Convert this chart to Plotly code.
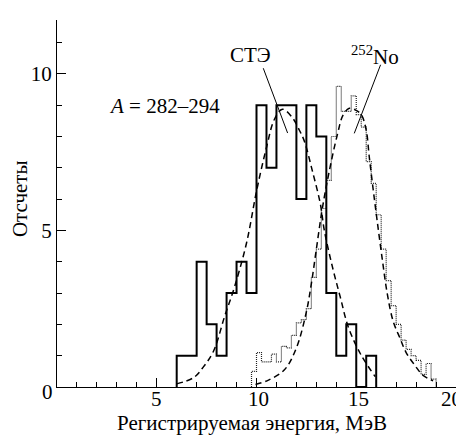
import numpy as np
import plotly.graph_objects as go

# --- Data ---
# Solid histogram (СТЭ): bin edges (MeV) and counts
ste_edges = [6.0, 7.0, 7.5, 8.0, 8.5, 9.0, 9.5, 10.0, 10.5, 11.0, 12.0, 12.5,
             13.0, 13.5, 14.0, 14.5, 15.0, 15.5, 16.0]
ste_counts = [1, 4, 2, 1, 3, 4, 3, 9, 7, 9, 6, 9, 8, 3, 1, 2, 0, 1]

# Dotted histogram (252No), 0.25 MeV bins from 9.75 to 19.0
no_edges = list(np.round(np.arange(9.75, 19.01, 0.25), 2))
no_counts = [0.5, 1.1, 0.8, 0.8, 1.05, 0.8, 1.3, 1.25, 1.65, 2.05, 2.15, 2.5,
             3.5, 4.4, 5.7, 6.6, 8.0, 9.6, 8.8, 8.8, 9.3, 8.7, 8.3, 7.2,
             6.5, 5.5, 4.4, 3.4, 2.6, 2.0, 1.5, 1.2, 1.0, 0.85, 0.4, 0.75, 0.25]

# Dashed fit curve for СТЭ
ste_fit_x = [6.0, 6.85, 7.35, 7.85, 8.4, 8.9, 9.5, 10.0, 10.5, 10.9, 11.3, 11.8,
             12.15, 12.4, 12.8, 13.2, 13.4, 13.8, 14.2, 14.6, 15.2, 15.95]
ste_fit_y = [0.1, 0.3, 0.65, 1.15, 2.25, 3.2, 4.6, 6.25, 7.65, 8.55, 8.87, 8.6,
             8.2, 7.85, 6.9, 5.85, 5.0, 3.85, 2.87, 1.92, 1.07, 0.33]

# Dashed fit curve for 252No
no_fit_x = [9.95, 10.6, 11.4, 12.0, 12.5, 12.75, 13.0, 13.3, 13.65, 14.05, 14.35,
            14.65, 14.95, 15.25, 15.5, 15.65, 15.85, 16.05, 16.3, 16.55,
            16.85, 17.2, 17.5, 17.95, 18.35, 18.85]
no_fit_y = [0.08, 0.22, 0.55, 1.25, 2.4, 3.3, 4.4, 5.7, 6.9, 8.05, 8.7,
            8.9, 8.85, 8.7, 8.2, 7.36, 6.3, 5.3, 4.1, 3.0,
            2.1, 1.55, 1.1, 0.68, 0.37, 0.2]

x_ticks = [0, 5, 10, 15, 20]
x_ticklabels = ["0", "5", "10", "15", "20"]
y_ticks = [5, 10]
y_ticklabels = ["5", "10"]

FONT = "Liberation Serif"
FS = 21


def step_xy(edges, counts):
    xs = [edges[0]] + list(edges)
    ys = [0] + list(counts) + [0]
    return xs, ys


fig = go.Figure()

sx, sy = step_xy(no_edges, no_counts)
fig.add_trace(go.Scatter(x=sx, y=sy, mode="lines", line_shape="hv",
                         line=dict(color="#222", width=1.2, dash="1px,1px"),
                         showlegend=False))

sx, sy = step_xy(ste_edges, ste_counts)
fig.add_trace(go.Scatter(x=sx, y=sy, mode="lines", line_shape="hv",
                         line=dict(color="black", width=2),
                         showlegend=False))

fig.add_trace(go.Scatter(x=ste_fit_x, y=ste_fit_y, mode="lines", line_shape="spline",
                         line=dict(color="black", width=1.5, dash="6px,4px"),
                         showlegend=False))
fig.add_trace(go.Scatter(x=no_fit_x, y=no_fit_y, mode="lines", line_shape="spline",
                         line=dict(color="black", width=1.5, dash="6px,4px"),
                         showlegend=False))

# Leader lines
fig.add_shape(type="line", x0=10.34, y0=10.18, x1=11.56, y1=8.11,
              xref="x", yref="y", line=dict(color="black", width=1))
fig.add_shape(type="line", x0=16.22, y0=10.29, x1=14.9, y1=8.1,
              xref="x", yref="y", line=dict(color="black", width=1))

annots = [
    dict(x=2.5, y=8.96, xref="x", yref="y", text="<i>A</i> = 282–294",
         xanchor="left", yanchor="middle", showarrow=False),
    dict(x=9.72, y=10.6, xref="x", yref="y", text="СТЭ",
         xanchor="center", yanchor="middle", showarrow=False),
    dict(x=15.92, y=10.6, xref="x", yref="y", text="<sup>252</sup>No",
         xanchor="center", yanchor="middle", showarrow=False),
    dict(x=0.5, y=0, xref="paper", yref="paper", text="Регистрируемая энергия, МэВ",
         xanchor="center", yanchor="middle", yshift=-36, xshift=-5, showarrow=False),
    dict(x=0, y=6.0, xref="paper", yref="y", text="Отсчеты", textangle=-90,
         xanchor="center", yanchor="middle", xshift=-37, showarrow=False),
]
# x tick labels placed as text just under the axis (origin "0" sits left of the corner)
x_label_shift = {0: (-10, -5), 5: (0, -12), 10: (2, -12), 15: (2, -12), 20: (-5, -12)}
for v, t in zip(x_ticks, x_ticklabels):
    dx, dy = x_label_shift[v]
    annots.append(dict(x=v, y=0, xref="x", yref="y", text=t, xanchor="center",
                       yanchor="middle", yshift=dy, xshift=dx, showarrow=False))
for a in annots:
    a["font"] = dict(family=FONT, size=FS, color="black")

# The page body has an 8px margin; compensate so the plot area lands at
# x 57..456, y 20..387 in the window.
fig.update_layout(
    width=464, height=439,
    margin=dict(l=49, r=16, t=12, b=60),
    paper_bgcolor="white", plot_bgcolor="white",
    font=dict(family=FONT, size=FS, color="black"),
    annotations=annots,
    showlegend=False,
)
fig.update_xaxes(range=[0, 20], showline=True, linecolor="black", linewidth=1.3,
                 showgrid=False, zeroline=False, ticks="inside", ticklen=9,
                 tickwidth=1.2, tickcolor="black", tickvals=x_ticks,
                 showticklabels=False,
                 minor=dict(dtick=1, tick0=0, ticks="inside", ticklen=5,
                            tickwidth=1, tickcolor="black", showgrid=False))
fig.update_yaxes(range=[0, 11.72], showline=True, linecolor="black", linewidth=1.3,
                 showgrid=False, zeroline=False, ticks="inside", ticklen=9,
                 tickwidth=1.2, tickcolor="black", tickvals=y_ticks,
                 ticktext=y_ticklabels, tickfont=dict(family=FONT, size=FS),
                 minor=dict(dtick=1, tick0=0, ticks="inside", ticklen=5,
                            tickwidth=1, tickcolor="black", showgrid=False))

fig.write_html("out.html")
